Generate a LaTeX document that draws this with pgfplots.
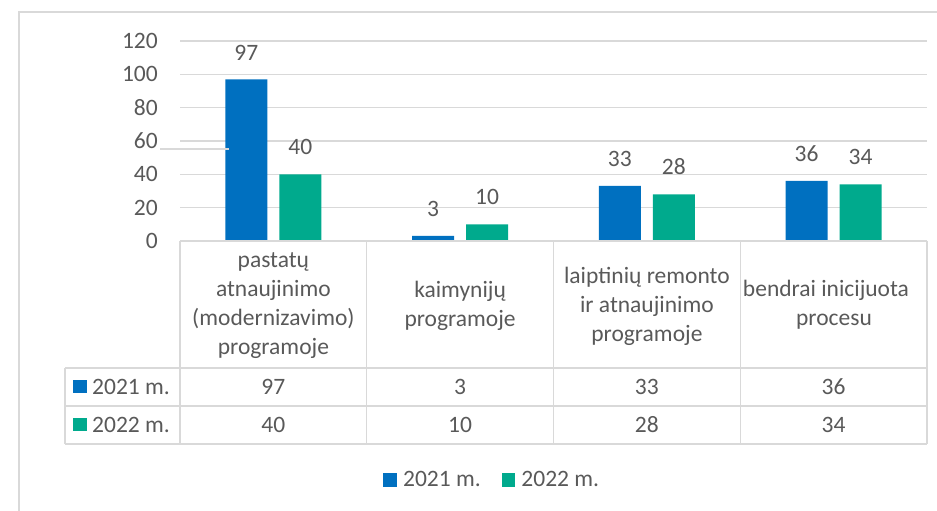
\documentclass[border=0pt]{standalone}
\usepackage{fontspec}
\setmainfont{Carlito}
\usepackage{pgfplots}
\pgfplotsset{compat=1.18}
\definecolor{bar21}{RGB}{0,112,192}
\definecolor{bar22}{RGB}{0,170,141}
\definecolor{ink}{RGB}{89,89,89}
\definecolor{rule}{RGB}{217,217,217}
\newcommand{\chartfont}{\fontsize{23.5bp}{29bp}\selectfont}

\begin{document}
\begin{tikzpicture}[x=1bp,y=1bp]
  \useasboundingbox (0,0) rectangle (937,511);
  % outer chart frame (cut at the picture's edges)
  \draw[rule, line width=1.3bp] (19,0) -- (19,499) -- (937,499);

  \begin{axis}[
      at={(180bp,270bp)}, anchor=south west,
      scale only axis,
      width=747bp, height=200bp,
      xmin=-0.5, xmax=3.5,
      ymin=0, ymax=120,
      ytick={0,20,...,120},
      xtick=\empty,
      major tick length=0pt,
      axis line style={draw=none},
      ymajorgrids=true,
      grid style={draw=rule, line width=1.2bp},
      ybar=12bp,
      bar width=42bp,
      ticklabel style={font=\chartfont, text=ink},
      yticklabel style={anchor=east, xshift=-18.7bp},
      /pgf/number format/assume math mode=true,
      nodes near coords,
      nodes near coords style={font=\chartfont, text=ink, anchor=south, yshift=15.7bp},
      legend columns=2,
      legend style={at={(0.418,-1.195)}, anchor=center, draw=none, fill=none,
        font=\chartfont, text=ink,
        /tikz/every even column/.append style={column sep=19bp}},
      legend image code/.code={\fill[#1] (0bp,-6.8bp) rectangle (13.7bp,6.8bp);
        \path (17.7bp,0bp);},
    ]
    \addplot[fill=bar21, draw=none] coordinates {(0,97) (1,3) (2,33) (3,36)};
    \addplot[fill=bar22, draw=none] coordinates {(0,40) (1,10) (2,28) (3,34)};
    \legend{2021 m.,2022 m.}
  \end{axis}

  % data table
  \begin{scope}[rule, line width=1.3bp]
    \draw (180,270) -- (927,270);
    \draw (65,143) -- (927,143);
    \draw (65,105) -- (927,105);
    \draw (65,67) -- (927,67);
    \draw (65,143) -- (65,67);
    \foreach \xx in {180,366.75,553.5,740.25,927}
      \draw (\xx,270) -- (\xx,67);
  \end{scope}
  \draw[rule, line width=1.3bp] (160,362) -- (229,362);

  \begin{scope}[every node/.style={font=\chartfont, text=ink, align=center}]
    \node at (273.4,205) {pastatų\\atnaujinimo\\(modernizavimo)\\programoje};
    \node at (460.1,205) {kaimynijų\\programoje};
    \node at (646.9,205) {laiptinių remonto\\ir atnaujinimo\\programoje};
    \node[anchor=base] at (826,214) {bendrai inicijuota};
    \node[anchor=base] at (834,185) {procesu};

    \fill[bar21] (73,117.5) rectangle (86.5,131);
    \fill[bar22] (73,79.5) rectangle (86.5,93);
    \node[anchor=west, inner sep=0pt] at (92,124) {2021 m.};
    \node[anchor=west, inner sep=0pt] at (92,86) {2022 m.};

    \node at (273.4,124) {97};
    \node at (460.1,124) {3};
    \node at (646.9,124) {33};
    \node at (833.6,124) {36};
    \node at (273.4,86) {40};
    \node at (460.1,86) {10};
    \node at (646.9,86) {28};
    \node at (833.6,86) {34};
  \end{scope}
\end{tikzpicture}
\end{document}
